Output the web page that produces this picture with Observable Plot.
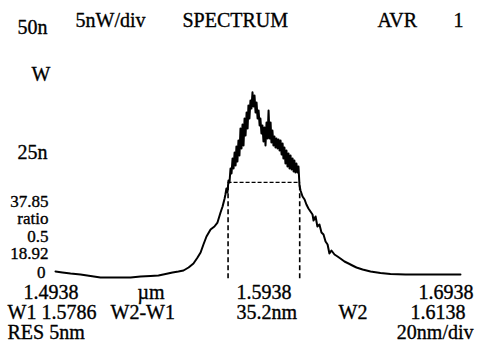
<!DOCTYPE html>
<html>
<head>
<meta charset="utf-8">
<script src="https://cdn.jsdelivr.net/npm/d3@7"></script>
<script src="https://cdn.jsdelivr.net/npm/@observablehq/plot@0.6"></script>
<style>
  html, body { margin: 0; padding: 0; background: #fff; }
  #chart { width: 479px; height: 351px; overflow: hidden; }
</style>
</head>
<body>
<div id="chart"></div>
<script>
// ---- Data (wavelength in nm, power in nW) ----
const wavelength = [
  1493.8, 1497.2, 1501.2, 1506.1, 1511.0, 1515.9, 1520.8, 1525.7, 1530.7, 1535.6,
  1540.5, 1544.4, 1547.9, 1551.3, 1554.2, 1556.7, 1559.2, 1561.6, 1563.6, 1565.1,
  1566.5, 1568.0, 1570.0, 1571.9, 1573.4, 1574.9, 1575.9, 1576.9, 1577.3,
  1577.8, 1578.3, 1578.8, 1579.3, 1579.8, 1580.3, 1580.8, 1581.3, 1581.8, 1582.3,
  1582.7, 1583.2, 1583.7, 1584.2, 1584.7, 1585.2, 1585.7, 1586.2, 1586.7, 1587.2,
  1587.7, 1588.2, 1588.6, 1589.1, 1589.6, 1590.1, 1590.6, 1591.1, 1591.6, 1592.1,
  1592.6, 1593.1, 1593.6, 1594.1, 1594.5, 1595.0, 1595.5, 1596.0, 1596.5, 1597.0,
  1597.5, 1598.0, 1598.5, 1599.0, 1599.5, 1599.9, 1600.4, 1600.9, 1601.4, 1601.9,
  1602.4, 1602.9, 1603.4, 1603.9, 1604.4, 1604.9, 1605.4, 1605.8, 1606.3, 1606.8,
  1607.3, 1607.8, 1608.3, 1608.8, 1609.3, 1609.8, 1610.3, 1610.8, 1611.2, 1611.7,
  1612.2, 1612.7, 1613.2, 1613.7,
  1614.2, 1615.2, 1616.2, 1617.1, 1618.1, 1619.1, 1620.1, 1620.6, 1621.6, 1622.5,
  1623.5, 1624.5, 1625.5, 1626.5, 1627.5, 1628.4, 1629.4, 1630.9, 1632.4, 1633.8,
  1635.8, 1637.8, 1639.7, 1641.7, 1644.7, 1648.6, 1653.5, 1658.4, 1665.8, 1673.2,
  1683.0, 1692.8
];
const power = [
  0.21, 0.00, -0.21, -0.42, -0.74, -1.05, -1.05, -1.05, -1.05, -0.84,
  -0.74, -0.63, -0.32, 0.00, 0.21, 0.42, 1.05, 1.89, 3.15, 4.20,
  5.88, 7.56, 9.03, 9.66, 10.50, 12.61, 13.87, 15.55, 16.39,
  17.65, 16.81, 19.33, 18.91, 21.85, 20.80, 23.95, 21.85, 25.21, 22.48,
  26.47, 23.32, 27.73, 24.58, 30.25, 26.05, 31.09, 26.68, 32.36, 28.78,
  33.62, 30.25, 35.09, 32.36, 36.14, 34.46, 37.85, 34.88, 37.19, 33.62,
  35.72, 32.36, 34.04, 30.88, 32.36, 29.20, 30.88, 27.52, 30.46, 26.68,
  31.52, 28.15, 34.04, 28.15, 31.52, 27.31, 29.83, 26.68, 28.57, 26.26,
  28.15, 26.05, 27.94, 25.63, 27.73, 24.79, 27.10, 23.95, 26.26, 22.90,
  25.63, 22.27, 25.00, 21.85, 24.58, 21.64, 23.95, 21.22, 23.53, 21.01,
  22.90, 21.01, 22.27, 18.28,
  17.23, 15.97, 15.34, 14.29, 13.45, 12.82, 12.19, 10.92, 11.77, 9.66,
  10.08, 8.40, 7.98, 6.51, 5.88, 3.99, 4.62, 3.78, 3.36, 2.94,
  2.31, 1.89, 1.47, 1.05, 0.63, 0.21, -0.11, -0.32, -0.42, -0.42,
  -0.42, -0.42
];

const xDomain = [1493.8, 1693.8];      // 1.4938 .. 1.6938 µm
const yDomain = [0, 50];               // 0 .. 50 nW
const markerW1 = 1578.6;
const markerW2 = 1613.8;
const peakPower = 37.85;
const halfPower = 18.92;

const headerLabels = ["5nW/div", "SPECTRUM", "AVR", "1"];
const yLabels = ["50n", "W", "25n"];
const ratioLabels = ["37.85", "ratio", "0.5", "18.92", "0"];
const xTickLabels = ["1.4938", "µm", "1.5938", "1.6938"];
const markerLabels = ["W1 1.5786", "W2-W1", "35.2nm", "W2", "1.6138"];
const footerLabels = ["RES 5nm", "20nm/div"];

// ---- Layout (pixel placement of the screen annotations) ----
const ML = 55, MT = 34;
const FONT = "'Liberation Serif', 'Times New Roman', serif";
function label(text, px, py, anchor = "start", size = 20) {
  return Plot.text([text], {
    text: d => d,
    frameAnchor: "top-left",
    dx: px - ML,
    dy: py - MT,
    textAnchor: anchor,
    lineAnchor: "middle",
    fontSize: size,
    fill: "black",
    stroke: "black",
    strokeWidth: 0.35
  });
}

const spectrum = wavelength.map((w, i) => ({w, p: power[i]}));

const textMarks = [
  label(yLabels[0], 47, 27, "end"),
  label(headerLabels[0], 75, 20),
  label(headerLabels[1], 182, 20),
  label(headerLabels[2], 377, 20),
  label(headerLabels[3], 453, 20),
  label(yLabels[1], 50, 74, "end"),
  label(yLabels[2], 47, 152, "end"),
  label(ratioLabels[0], 48, 201, "end", 17),
  label(ratioLabels[1], 48, 218.5, "end", 17),
  label(ratioLabels[2], 48, 236, "end", 17),
  label(ratioLabels[3], 48, 253.5, "end", 17),
  label(ratioLabels[4], 45, 272, "end", 17),
  label(xTickLabels[0], 23, 292),
  label(xTickLabels[1], 137, 292),
  label(xTickLabels[2], 236, 292),
  label(xTickLabels[3], 473, 292, "end"),
  label(markerLabels[0], 7, 312),
  label(markerLabels[1], 110, 312),
  label(markerLabels[2], 236, 312),
  label(markerLabels[3], 338, 312),
  label(markerLabels[4], 410, 312),
  label(footerLabels[0], 7, 332),
  label(footerLabels[1], 473, 332, "end")
];

const chart = Plot.plot({
  width: 479,
  height: 351,
  marginLeft: ML,
  marginRight: 17,
  marginTop: MT,
  marginBottom: 79,
  x: {domain: xDomain, axis: null},
  y: {domain: yDomain, axis: null},
  style: {background: "white", fontFamily: FONT, color: "black", overflow: "visible"},
  marks: [
    Plot.ruleX([markerW1, markerW2], {y1: -1.3, y2: halfPower, stroke: "black", strokeWidth: 1.6, strokeDasharray: "5,3"}),
    Plot.ruleY([halfPower], {x1: markerW1, x2: markerW2, stroke: "black", strokeWidth: 1.2, strokeDasharray: "4,2"}),
    Plot.line(spectrum, {x: "w", y: "p", stroke: "black", strokeWidth: 2, curve: "linear"}),
    ...textMarks
  ]
});
document.getElementById("chart").appendChild(chart);
</script>
</body>
</html>
